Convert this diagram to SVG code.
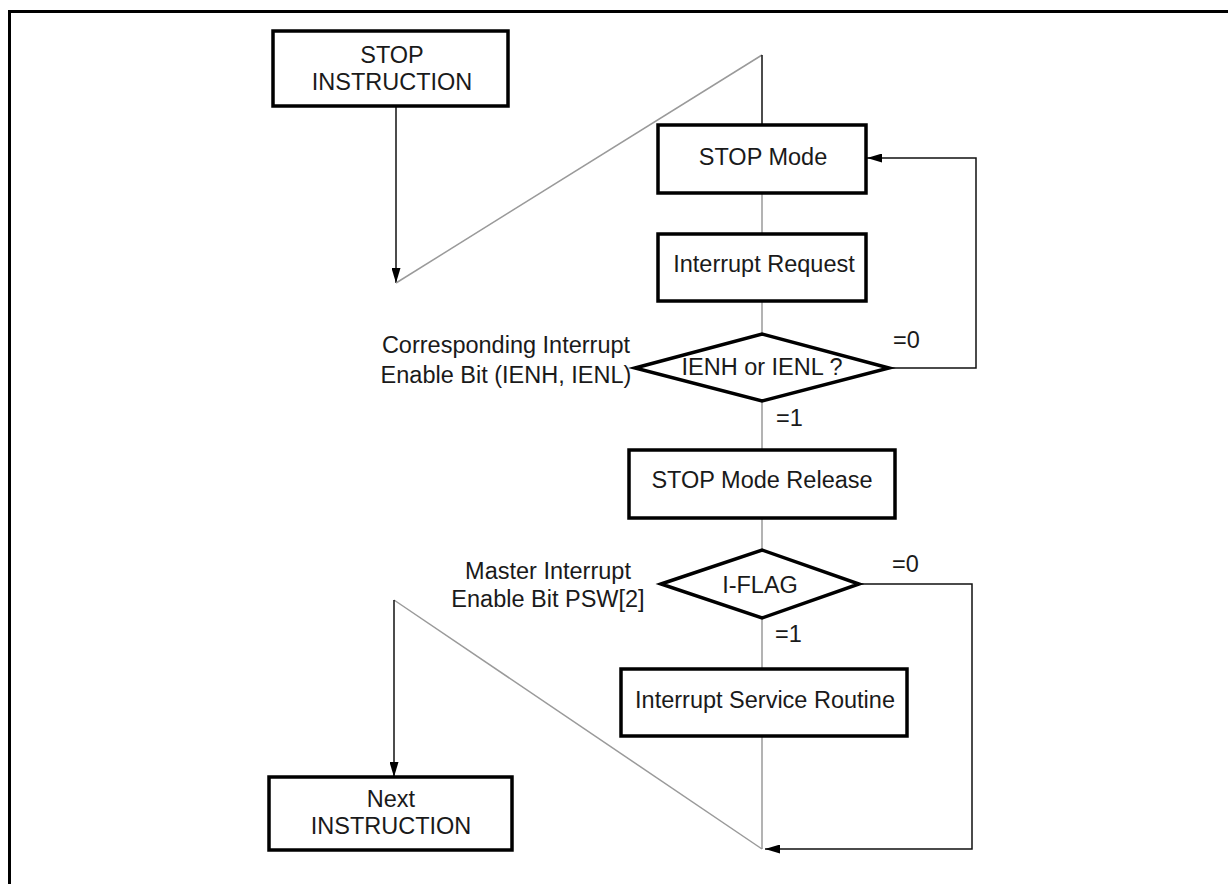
<svg xmlns="http://www.w3.org/2000/svg" width="1228" height="884" viewBox="0 0 1228 884">
<defs>
<style>
.box{fill:#fff;stroke:#000;stroke-width:3.5}
.t{font-family:"Liberation Sans",Arial,sans-serif;font-size:23.5px;fill:#1a1a1a}
.c{text-anchor:middle}
.gray{fill:none;stroke:#9a9a9a;stroke-width:1.5}
.blk{fill:none;stroke:#111;stroke-width:1.5}
</style>
<marker id="arr" viewBox="0 0 15 9" refX="15" refY="4.5" markerWidth="15" markerHeight="9" markerUnits="userSpaceOnUse" orient="auto">
<path d="M0,0 L15,4.5 L0,9 z" fill="#000"/>
</marker>
</defs>
<rect width="1228" height="884" fill="#fff"/>
<rect x="9.5" y="11.5" width="1240" height="900" fill="none" stroke="#000" stroke-width="3"/>
<g id="connectors">
<line class="blk" x1="396" y1="106" x2="396" y2="283" marker-end="url(#arr)"/>
<line class="gray" x1="396" y1="283" x2="762" y2="55"/>
<line class="blk" x1="762" y1="55" x2="762" y2="125" stroke="#444"/>
<line class="gray" x1="762" y1="193" x2="762" y2="234"/>
<line class="gray" x1="762" y1="301" x2="762" y2="334"/>
<polyline class="blk" points="889,368 976,368 976,158 867,158" marker-end="url(#arr)"/>
<line class="gray" x1="762" y1="401" x2="762" y2="450"/>
<line class="gray" x1="762" y1="518" x2="762" y2="550"/>
<polyline class="blk" points="859,584 972,584 972,849 765,849" marker-end="url(#arr)"/>
<line class="gray" x1="762" y1="618" x2="762" y2="669"/>
<line class="gray" x1="762" y1="736" x2="762" y2="849"/>
<line class="gray" x1="762" y1="849" x2="394" y2="600"/>
<line class="blk" x1="394" y1="600" x2="394" y2="777" marker-end="url(#arr)"/>
</g>
<g id="stop-instruction">
<rect class="box" x="273" y="31" width="235" height="75"/>
<text class="t c" x="392" y="63">STOP</text>
<text class="t c" x="392" y="90">INSTRUCTION</text>
</g>
<g id="stop-mode">
<rect class="box" x="658" y="125" width="208" height="68"/>
<text class="t c" x="763" y="165">STOP Mode</text>
</g>
<g id="interrupt-request">
<rect class="box" x="658" y="234" width="208" height="67"/>
<text class="t c" x="764" y="272">Interrupt Request</text>
</g>
<g id="ien-decision">
<polygon class="box" points="635,368 762,334 889,368 762,401"/>
<text class="t c" x="762" y="375">IENH or IENL ?</text>
<text class="t c" x="506" y="353">Corresponding Interrupt</text>
<text class="t c" x="506" y="383">Enable Bit (IENH, IENL)</text>
<text class="t" x="893" y="348">=0</text>
<text class="t" x="776" y="426">=1</text>
</g>
<g id="stop-mode-release">
<rect class="box" x="629" y="450" width="266" height="68"/>
<text class="t c" x="762" y="488">STOP Mode Release</text>
</g>
<g id="iflag-decision">
<polygon class="box" points="661,584 762,550 859,584 762,618"/>
<text class="t c" x="760" y="593">I-FLAG</text>
<text class="t c" x="548" y="579">Master Interrupt</text>
<text class="t c" x="548" y="607">Enable Bit PSW[2]</text>
<text class="t" x="892" y="572">=0</text>
<text class="t" x="775" y="642">=1</text>
</g>
<g id="isr">
<rect class="box" x="621" y="669" width="286" height="67"/>
<text class="t c" x="765" y="708">Interrupt Service Routine</text>
</g>
<g id="next-instruction">
<rect class="box" x="269" y="777" width="243" height="73"/>
<text class="t c" x="391" y="807">Next</text>
<text class="t c" x="391" y="834">INSTRUCTION</text>
</g>
</svg>
